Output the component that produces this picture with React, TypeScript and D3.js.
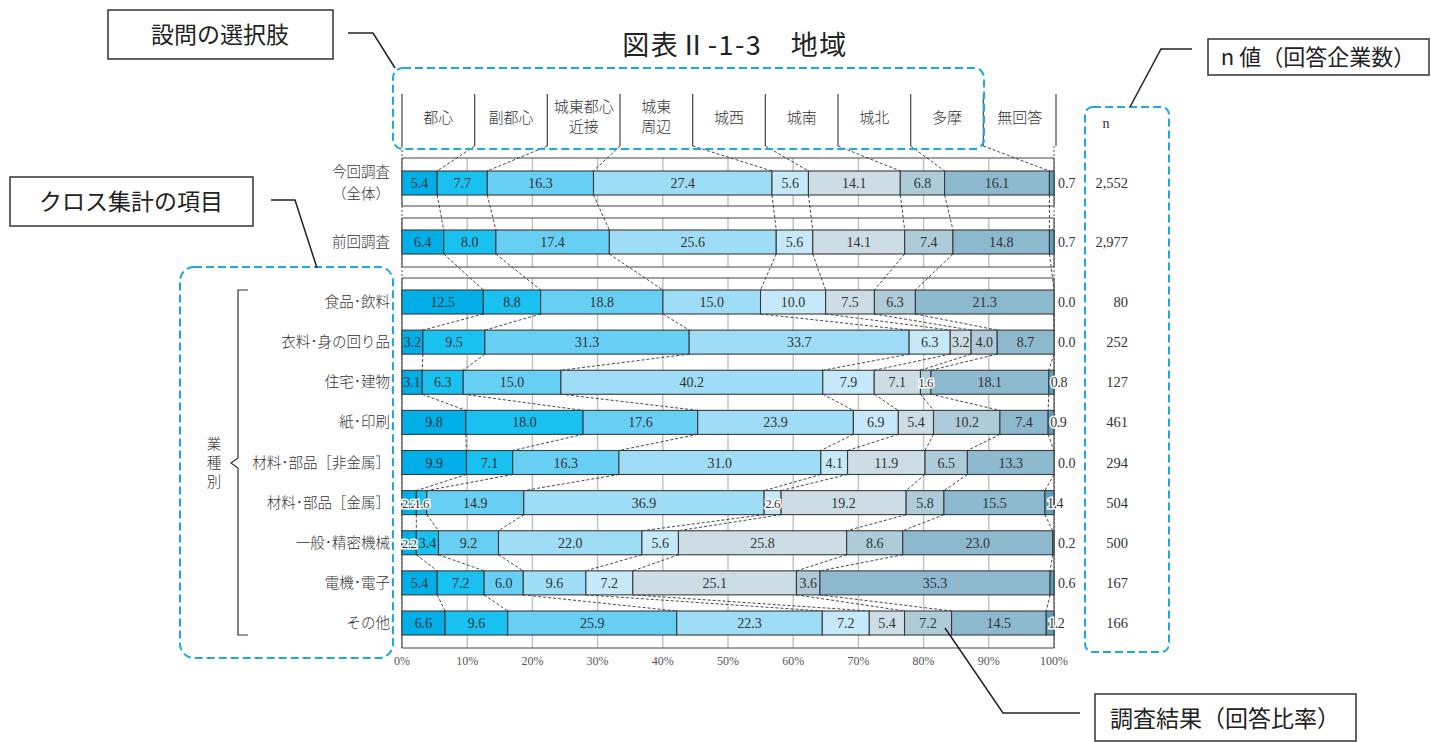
import React from 'react';
import * as d3 from 'd3';

// ---- data ----
const categories = ['都心', '副都心', '城東都心近接', '城東周辺', '城西', '城南', '城北', '多摩', '無回答'];
const headerLabels = [['都心'], ['副都心'], ['城東都心', '近接'], ['城東', '周辺'], ['城西'], ['城南'], ['城北'], ['多摩'], ['無回答']];
const rowLabels = [
  ['今回調査', '（全体）'], ['前回調査'], ['食品･飲料'], ['衣料･身の回り品'], ['住宅･建物'], ['紙･印刷'],
  ['材料･部品［非金属］'], ['材料･部品［金属］'], ['一般･精密機械'], ['電機･電子'], ['その他'],
];
const toshin = [5.4, 6.4, 12.5, 3.2, 3.1, 9.8, 9.9, 2.2, 2.2, 5.4, 6.6];
const fukutoshin = [7.7, 8.0, 8.8, 9.5, 6.3, 18.0, 7.1, 1.6, 3.4, 7.2, 9.6];
const jotoToshinKinsetsu = [16.3, 17.4, 18.8, 31.3, 15.0, 17.6, 16.3, 14.9, 9.2, 6.0, 25.9];
const jotoShuhen = [27.4, 25.6, 15.0, 33.7, 40.2, 23.9, 31.0, 36.9, 22.0, 9.6, 22.3];
const josai = [5.6, 5.6, 10.0, 6.3, 7.9, 6.9, 4.1, 2.6, 5.6, 7.2, 7.2];
const jonan = [14.1, 14.1, 7.5, 3.2, 7.1, 5.4, 11.9, 19.2, 25.8, 25.1, 5.4];
const johoku = [6.8, 7.4, 6.3, 4.0, 1.6, 10.2, 6.5, 5.8, 8.6, 3.6, 7.2];
const tama = [16.1, 14.8, 21.3, 8.7, 18.1, 7.4, 13.3, 15.5, 23.0, 35.3, 14.5];
const mukaito = [0.7, 0.7, 0.0, 0.0, 0.8, 0.9, 0.0, 1.4, 0.2, 0.6, 1.2];
const nValues = [2552, 2977, 80, 252, 127, 461, 294, 504, 500, 167, 166];
const xTicks = [0, 10, 20, 30, 40, 50, 60, 70, 80, 90, 100];

const series = [toshin, fukutoshin, jotoToshinKinsetsu, jotoShuhen, josai, jonan, johoku, tama, mukaito];
const colors = ['#00afe8', '#18c1f0', '#68cff4', '#9fdcf6', '#c6e9f9', '#cddde5', '#aecbd9', '#8db9cf', '#5d9dbf'];

const SERIF = '"Liberation Serif", "DejaVu Serif", serif';
const JP = '"Noto Sans CJK JP", "Noto Sans", sans-serif';
const BLUE = '#1ba9e3';

export default function App() {
  const x = d3.scaleLinear().domain([0, 100]).range([402, 1054]);
  const hx = d3.scaleBand<string>().domain(categories).range([402, 1056]);
  const yTop = d3.scalePoint<number>().domain([0, 1]).range([183, 242]);
  const yInd = d3.scalePoint<number>().domain(d3.range(2, 11)).range([302, 623]);
  const rowY = (i: number) => (i < 2 ? (yTop(i) as number) : (yInd(i) as number));
  const barH = 24;

  const rows = rowLabels.map((_, r) => {
    const vals = series.map((s) => s[r]);
    const total = d3.sum(vals);
    const cum = [0, ...d3.cumsum(vals)].map((c) => (c / total) * 100);
    return { vals, cum };
  });

  const boxes = [
    { top: 158, bottom: 206 },
    { top: 218, bottom: 267 },
    { top: 278, bottom: 648 },
  ];
  const fmt = d3.format(',');

  const connectors: JSX.Element[] = [];
  for (let k = 1; k <= 8; k++) {
    connectors.push(
      <line key={`h${k}`} x1={(hx(categories[k]) as number)} y1={146} x2={x(rows[0].cum[k])} y2={rowY(0) - barH / 2}
        stroke="#333" strokeWidth={0.9} strokeDasharray="3,2" />
    );
    for (let r = 0; r < rows.length - 1; r++) {
      connectors.push(
        <line key={`c${k}-${r}`} x1={x(rows[r].cum[k])} y1={rowY(r) + barH / 2} x2={x(rows[r + 1].cum[k])} y2={rowY(r + 1) - barH / 2}
          stroke="#333" strokeWidth={0.9} strokeDasharray="3,2" />
      );
    }
  }

  return (
    <svg width={1431} height={742} style={{ position: 'absolute', left: 0, top: 0, background: '#fff' }}>
      {/* title */}
      <text x={735} y={55} textAnchor="middle" fontFamily={JP} fontSize={27} letterSpacing={1.5} fill="#222">図表Ⅱ-1-3　地域</text>

      {/* header cells */}
      {categories.map((c, i) => (
        <g key={c}>
          <line x1={hx(c)} x2={hx(c)} y1={94} y2={146} stroke="#444" strokeWidth={1.2} />
          {headerLabels[i].map((t, j) => (
            <text key={j} x={(hx(c) as number) + hx.bandwidth() / 2}
              y={headerLabels[i].length === 1 ? 123 : 112 + j * 20}
              textAnchor="middle" fontFamily={JP} fontWeight={300} fontSize={15} fill="#333">{t}</text>
          ))}
        </g>
      ))}
      <line x1={1056} x2={1056} y1={94} y2={146} stroke="#444" strokeWidth={1.2} />

      {/* dotted edges between boxes */}
      <line x1={402} x2={402} y1={146} y2={648} stroke="#555" strokeWidth={1} strokeDasharray="2,2" />
      <line x1={1054} x2={1054} y1={146} y2={648} stroke="#555" strokeWidth={1} strokeDasharray="2,2" />

      {/* boxes with grid */}
      {boxes.map((b, i) => (
        <g key={i}>
          <rect x={402} y={b.top} width={652} height={b.bottom - b.top} fill="#fff" />
          {xTicks.slice(1, -1).map((t) => (
            <line key={t} x1={x(t)} x2={x(t)} y1={b.top} y2={b.bottom} stroke="#c4c4c4" strokeWidth={1.5} />
          ))}
          <line x1={402} x2={1054} y1={b.top} y2={b.top} stroke="#444" strokeWidth={1.2} />
          <line x1={402} x2={1054} y1={b.bottom} y2={b.bottom} stroke="#444" strokeWidth={1.2} />
          <line x1={402} x2={402} y1={b.top} y2={b.bottom} stroke="#444" strokeWidth={1.2} />
          <line x1={1054} x2={1054} y1={b.top} y2={b.bottom} stroke="#444" strokeWidth={1.2} />
        </g>
      ))}

      {connectors}

      {/* bars */}
      {rows.map((row, r) => {
        const cy = rowY(r);
        return (
          <g key={r}>
            {row.vals.map((v, k) => (
              <rect key={k} x={x(row.cum[k])} y={cy - barH / 2} width={Math.max(0, x(row.cum[k + 1]) - x(row.cum[k]))}
                height={barH} fill={colors[k]} stroke="#3a3a3a" strokeWidth={1.1} />
            ))}
            {row.vals.map((v, k) => {
              if (k === 8) {
                const halo = v >= 0.8;
                return (
                  <text key={`t${k}`} x={halo ? x(row.cum[k]) + 2 : 1058} y={cy + 5} textAnchor="start"
                    fontFamily={SERIF} fontSize={14} letterSpacing={halo ? -0.4 : 0} fill="#333"
                    stroke={halo ? '#fff' : 'none'} strokeWidth={halo ? 3 : 0} style={{ paintOrder: 'stroke' }}>
                    {v.toFixed(1)}
                  </text>
                );
              }
              const halo = v < 3.0;
              return (
                <text key={`t${k}`} x={(x(row.cum[k]) + x(row.cum[k + 1])) / 2} y={cy + 5} textAnchor="middle"
                  fontFamily={SERIF} fontSize={halo ? 13 : 14} letterSpacing={halo ? -0.5 : 0} fill="#333"
                  stroke={halo ? '#fff' : 'none'} strokeWidth={halo ? 3 : 0} style={{ paintOrder: 'stroke' }}>
                  {v.toFixed(1)}
                </text>
              );
            })}
            {/* row label */}
            {rowLabels[r].map((t, j) => (
              <text key={`l${j}`} x={390} y={rowLabels[r].length === 1 ? cy + 5 : cy - 6 + j * 22}
                textAnchor="end" fontFamily={JP} fontWeight={300} fontSize={14.5} fill="#333">{t}</text>
            ))}
            {/* n value */}
            <text x={1128} y={cy + 5} textAnchor="end" fontFamily={SERIF} fontSize={14.5} fill="#333">{fmt(nValues[r])}</text>
          </g>
        );
      })}

      {/* x axis ticks */}
      {xTicks.map((t) => (
        <text key={t} x={x(t)} y={665} textAnchor="middle" fontFamily={SERIF} fontSize={12} fill="#555">{t}%</text>
      ))}
      <text x={1106} y={128} textAnchor="middle" fontFamily={SERIF} fontSize={14} fill="#333">n</text>

      {/* bracket 業種別 */}
      <path d="M248,290 L238,290 L238,458 L231,463 L238,468 L238,635 L248,635" fill="none" stroke="#333" strokeWidth={1.2} />
      {['業', '種', '別'].map((c, i) => (
        <text key={c} x={214} y={449 + i * 19} textAnchor="middle" fontFamily={JP} fontWeight={300} fontSize={14.5} fill="#333">{c}</text>
      ))}

      {/* blue dashed frames */}
      <rect x={393} y={68} width={591} height={81} rx={10} fill="none" stroke={BLUE} strokeWidth={2} strokeDasharray="8,4" />
      <rect x={180} y={267} width={213} height={391} rx={14} fill="none" stroke={BLUE} strokeWidth={2} strokeDasharray="8,4" />
      <rect x={1085} y={107} width={84} height={545} rx={8} fill="none" stroke={BLUE} strokeWidth={2} strokeDasharray="8,4" />

      {/* annotation boxes */}
      <rect x={108} y={10} width={225} height={49} fill="#fff" stroke="#333" strokeWidth={1.5} />
      <text x={220} y={43} textAnchor="middle" fontFamily={JP} fontWeight={400} fontSize={23} fill="#222">設問の選択肢</text>
      <path d="M348,33 L373,33 L395,68" fill="none" stroke="#222" strokeWidth={1.5} />

      <rect x={10} y={177} width={243} height={49} fill="#fff" stroke="#333" strokeWidth={1.5} />
      <text x={131} y={210} textAnchor="middle" fontFamily={JP} fontWeight={400} fontSize={23} fill="#222">クロス集計の項目</text>
      <path d="M271,200 L295,200 L317,268" fill="none" stroke="#222" strokeWidth={1.5} />

      <rect x={1208} y={39} width={221} height={36} fill="#fff" stroke="#333" strokeWidth={1.5} />
      <text x={1318} y={65} textAnchor="middle" fontFamily={JP} fontWeight={400} fontSize={22} fill="#222">n 値（回答企業数）</text>
      <path d="M1192,49 L1161,49 L1130,107" fill="none" stroke="#222" strokeWidth={1.5} />

      <rect x={1095} y={694} width={261} height={47} fill="#fff" stroke="#333" strokeWidth={1.5} />
      <text x={1225} y={727} textAnchor="middle" fontFamily={JP} fontWeight={400} fontSize={23} fill="#222">調査結果（回答比率）</text>
      <path d="M945,628 L1003,713 L1080,713" fill="none" stroke="#222" strokeWidth={1.5} />
    </svg>
  );
}
